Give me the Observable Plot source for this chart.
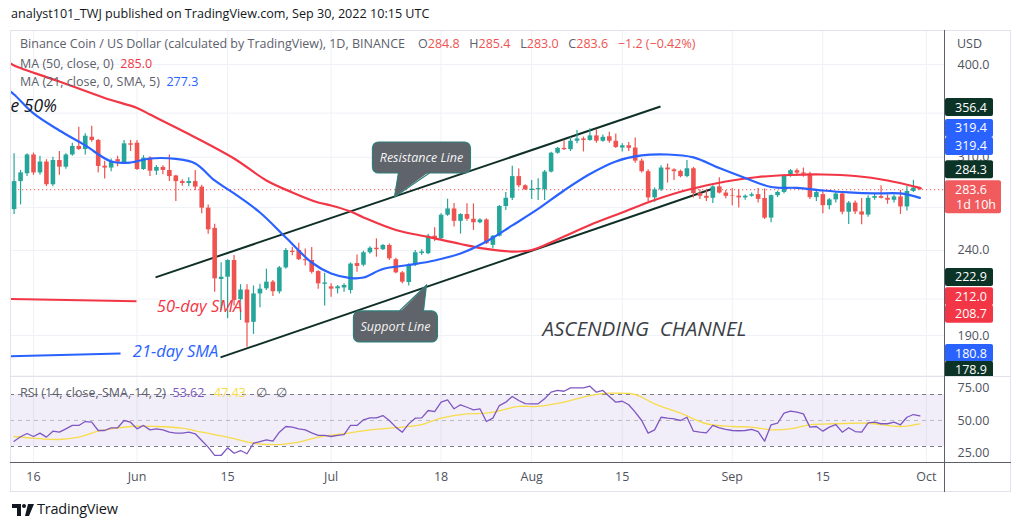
<!DOCTYPE html>
<html><head><meta charset="utf-8">
<script src="https://cdn.jsdelivr.net/npm/d3@7"></script>
<script src="https://cdn.jsdelivr.net/npm/@observablehq/plot@0.6"></script>
<style>
body{margin:0;background:#fff;font-family:"Open Sans",sans-serif;}
#root{position:relative;width:1024px;height:530px;overflow:hidden;background:#fff;}
.abs{position:absolute;white-space:pre;line-height:1;}
.pane{position:absolute;left:0;}
</style></head><body><div id="root"></div>
<script>
// ---------------- DATA ----------------
const firstDay = "2022-05-13";
const open  = [268.5,290,296.3,312,297,306,287.5,307.3,301.7,312,319.4,316.7,327.6,324.7,302.5,301,308,305,321.7,322.3,299.8,309.3,298.4,301.5,299,294.5,290,288.5,290,285.6,269.6,255,221.6,223,233.5,209.7,215.3,197,213,216,220,214.2,228.8,239.5,240,234,233.5,226.5,218.7,217.2,216,216.5,215,231.5,230.5,238.5,241.5,240.5,243.3,234,225.7,219.8,230.6,238,237.9,249.6,247.9,264.4,269,260,264.9,261.5,259,261,243.4,249.6,270.8,277,294,286.7,283,283.5,283.6,297.7,313.5,317.7,316.6,324,326,324.7,328.8,324,328,324,318,320,318,306.8,298,277.3,283.5,301,299.5,298.2,294,300.4,280.6,278.5,277,285.8,281,279,278.6,277.3,278.6,279.8,276.8,262.3,279,281.5,294.6,298.8,297,296,277.5,279.8,271.4,275.8,280.3,266.6,273.4,266.8,264.5,277,278.3,277,275.5,278,270.5,282.3,284.8];
const high  = [313,299,313,313.7,311,308,310,315,313,322.3,336.7,330.7,337.7,325.5,306.6,308.5,311,324.7,324.7,324.7,311.4,310.5,303,303,312,295,291.5,293,299,287,272,258,232,234,236.7,218.5,218.5,217.7,218.7,228,221,229.7,241.3,242,244.8,241,242,227,225.4,219,218,219,232,237,239.5,242.5,247.8,244,244.3,235,226.5,231.4,240,240.5,251,255.5,265.5,276.3,273,265.5,272.8,272.8,261.8,261.8,250,271.5,281.5,302.4,300.3,287.5,290.9,292.3,299,314.3,318.5,324.9,327.3,333.7,327.7,335.3,334.3,329.7,332,330.6,321.7,322.8,327,308.5,299.5,285,303,304.3,300.5,299.3,307.3,301.5,283.5,284,286.7,293,283,284.5,283.8,279.5,281,284.5,284.2,279.5,282.5,295.5,299.8,300.3,301,297.5,283,282,276.8,281.4,281,274.5,275,276.8,279,280,286.7,279.5,279.5,283,286.4,291,285.4];
const low   = [265,272,294,295,295,286,286,295,300,311,315.9,312,323,297,292,298,302,304,315,299,299,294,295,295.5,290,274.5,286.5,286,283,265.4,251,214,203.5,199,206,198,184,190.6,205,215,211.5,213,228,236.5,233.5,230,225,215.8,206,211,213,214,213,226,229.5,237.5,235.6,240,233.5,225.2,219,217.7,229.7,236.7,237.2,246,247.2,263.6,256,251,260,253.6,258.3,244,241.1,249,267.9,275.3,285.2,283,276,275.3,275.3,297,312.7,315.9,315,321.7,314.6,323.9,322.3,323,322.3,317.6,314.6,315,305,297,274.4,274,282.3,288.8,290.9,293,293,277.2,276,274.5,273,280.2,276.6,271.3,269.7,275.5,277.7,273.4,261.4,259,277.6,280.5,293.5,294.5,293.5,276,274.5,265.4,268.5,273.4,264.8,257.8,265,257.6,263,275.5,276.5,272.5,273.5,265,267.4,281.5,283.0];
const close = [290,297,312,297,306,287.5,307.3,301.7,312,319.4,316.7,328.5,324.7,302.3,301,306.6,306,321.7,320.5,299.8,309.3,298.4,301.5,299,294,290,288.5,290,285.6,269.6,254,222,223,233.5,209.2,215.3,196.6,213,215.8,220,214.3,228.8,240,238.7,234,233.3,226,219,219.5,215.8,217.2,218,231.2,229.7,238.5,241.5,240.5,243.3,234.6,225.7,220,230.6,238.5,239,249.6,247.9,264.4,269,260,264.9,261.5,259,261,244.5,249.6,270.8,277,294,286.7,283.5,284.1,284.5,297.7,313.5,317.7,316.6,324,326,324.7,328.8,324,327.5,324,318.5,320,317.8,306.8,298,277.3,283.5,301,299.5,298,294,300.4,280.6,278.5,277,285.8,281,278.5,278.6,277.3,278.6,279.7,276.2,262.3,279,281.5,294.6,298.8,296.8,296,277.5,281.4,271.4,275.8,280.3,266.6,273.4,266.8,264.5,277,278.3,277,275.5,278,270.5,282.3,284.8,283.6];

const ma50Dates = ["2022-05-12","2022-05-13","2022-05-20","2022-05-27","2022-06-01","2022-06-03","2022-06-09","2022-06-16","2022-06-21","2022-06-25","2022-06-29","2022-07-01","2022-07-04","2022-07-06","2022-07-11","2022-07-16","2022-07-21","2022-07-25","2022-07-29","2022-08-01","2022-08-05","2022-08-10","2022-08-15","2022-08-20","2022-08-25","2022-08-31","2022-09-05","2022-09-10","2022-09-15","2022-09-20","2022-09-25","2022-09-30"];
const ma50Vals  = [403.4,399,381.8,364.9,355,348.7,330.5,309,290.9,281.5,273.8,271.6,267.1,262.8,253.9,249.1,244.3,241,239.3,240.3,247.4,257.4,266.4,275.7,283.4,290.1,293.7,295.3,295.7,294.5,290.9,285.0];

const ma21Dates = ["2022-05-12","2022-05-13","2022-05-16","2022-05-20","2022-05-24","2022-05-28","2022-05-31","2022-06-03","2022-06-07","2022-06-10","2022-06-13","2022-06-16","2022-06-20","2022-06-24","2022-06-28","2022-07-01","2022-07-04","2022-07-06","2022-07-09","2022-07-13","2022-07-17","2022-07-21","2022-07-25","2022-07-29","2022-08-02","2022-08-06","2022-08-10","2022-08-14","2022-08-18","2022-08-22","2022-08-26","2022-08-30","2022-09-03","2022-09-07","2022-09-11","2022-09-15","2022-09-19","2022-09-23","2022-09-27","2022-09-30"];
const ma21Vals  = [373.5,368.4,349.7,333.7,320.3,306.5,305.6,309,308.6,304.8,290.9,280.7,266.4,248.7,232.2,225.3,222.5,222.8,228.1,230.6,233.5,238,246,257.1,269,283,296.1,306.5,311.6,312.4,309.9,301,292.9,285.7,285,283,281.5,280.7,280.7,277.3];

const rsiVals = [34,37.5,40,37.7,40.3,37.2,41.8,41,43.6,46.2,46.2,49.2,48.7,42.3,42.3,44.4,44.4,50,48.7,43.6,46.2,42.8,43.6,42.8,41,40.3,40.3,41,39.8,34.6,29.5,23.1,23.1,29,24.8,26.9,24.4,32.5,33.8,35.1,34.1,41,45.4,44.9,43.6,42.8,40.5,38.5,38.5,37.7,38.5,39.2,46.2,46.2,50.5,52,52,53.8,50,44.9,41,47.4,51.8,52,57.7,56.9,64.1,65.9,59,62.1,60.2,58.2,59,49.2,51.8,61.5,64.1,68.5,65.4,63,62.8,62.8,66.7,71.8,73.1,72.5,75.1,75.1,75.1,76.4,71.8,73.1,68.5,64.1,64.8,62.1,56.4,50,40.3,42.8,52.5,51.8,51.3,50,52.5,41.8,41,40.5,46.2,44.4,43.1,42.3,42.1,42.3,43.1,41.5,34.1,46.7,47.9,55.6,57.2,56.4,55.1,44.9,45.4,41.8,44.9,46.9,41,44.4,41.5,41,48.2,48.7,47.5,47.5,48.7,46.7,52.5,54.6,53.62];

const rsiSmaDay = [0,3,7,10,13,18,22,26,29,33,37,41,44,47,51,55,60,63,66,70,73,75,78,81,85,89,92,96,99,103,107,111,114,117,120,123,127,132,137,140];
const rsiSmaVals = [37.7,36.4,35.4,37.2,41.8,45.4,45.4,44.1,41,37.2,32.5,31.5,33.3,37.2,39.8,42.8,44.9,46.9,51.8,55.1,55.6,57.5,60.8,60.8,64.1,69.2,71,70,62.8,55.6,47.5,45.4,44.9,42.8,43.6,46.7,47.5,47.9,45.4,47.43];
const rsiLevels = [70, 50, 30];

const priceGridTicks = [170,190,210,240,270,310,350,400];
const priceLabelTicks = [190,240,310,400];
const rsiTicks = [25,50,75];
const xTickDates  = ["2022-05-16","2022-06-01","2022-06-15","2022-07-01","2022-07-18","2022-08-01","2022-08-15","2022-09-01","2022-09-15","2022-10-01"];
const xTickLabels = ["16","Jun","15","Jul","18","Aug","15","Sep","15","Oct"];

// drawings (date / price anchors)
const channelFrom = [["2022-06-03T20:40Z",222.9],["2022-06-13T21:40Z",178.9]];
const channelTo   = [["2022-08-20T21:50Z",356.4],["2022-08-28T22:50Z",284.3]];
const keyLineFrom = [["2022-05-12T10:40Z",210.1],["2022-05-12T10:40Z",179.5]];
const keyLineTo   = [["2022-05-31T22:05Z",208.7],["2022-05-29T10:50Z",180.8]];
const noteTexts = ["50-day SMA","21-day SMA","ASCENDING  CHANNEL","e 50%"];
const noteDates = ["2022-06-10T16:00Z","2022-06-06T23:00Z","2022-08-18T10:30Z","2022-05-12T10:40Z"];
const notePrices = [205.8,181.8,193.2,356.5];
const calloutTexts = ["Resistance Line","Support Line"];
const calloutDates = ["2022-07-10T20:50Z","2022-07-15T19:30Z"];
const calloutPrices = [277.6,218.0];
const badgeValues = [356.4,319.4,319.4,284.3,283.6,222.9,212.0,208.7,180.8,178.9];
const lastPrice = 283.6;

// ---------------- STYLE ----------------
const UP="#26a69a", DOWN="#ef5350";
const GRID="#eef1f6";
const DAY=864e5;
const t16 = Date.UTC(2022,4,16);
const xDomain=[new Date(t16-3.555*DAY), new Date(t16+140.96*DAY)];
const W=1024, ML=10, MR=79;
const DARK="#0b3326", BLUE="#2962ff", RED="#f23645";
const badgeStyle=[{bg:DARK,dy:1},{bg:BLUE,dy:-18},{bg:BLUE,dy:0},{bg:DARK,dy:-19},{bg:"#f15b5e",dy:0,sub:"1d 10h",w:56},{bg:DARK,dy:0},{bg:RED,dy:1},{bg:RED,dy:13},{bg:BLUE,dy:0},{bg:DARK,dy:13}];
const noteStyle=[{fill:"#f23645",size:16.5,anchor:"middle"},{fill:"#2962ff",size:16.5,anchor:"middle"},{fill:"#3c3f46",size:20.5,anchor:"middle"},{fill:"#131722",size:17.5,anchor:"start"}];
const calloutGeom=[{bx0:-22,bx1:76,by0:-55,by1:-24,p0:4,p1:35,side:"bottom"},{bx0:-73,bx1:11,by0:26,by1:57,p0:-27,p1:-3,side:"top"}];

const root=document.getElementById("root");
function addText(txt,left,top,css){const d=document.createElement("div");d.className="abs";d.textContent=txt;d.style.left=left+"px";d.style.top=top+"px";Object.assign(d.style,css||{});root.appendChild(d);return d;}
function addBox(l,t,w,h,css){const d=document.createElement("div");d.style.position="absolute";d.style.left=l+"px";d.style.top=t+"px";d.style.width=w+"px";d.style.height=h+"px";Object.assign(d.style,css);root.appendChild(d);return d;}

const candles = open.map((o,i)=>({date:new Date(Date.parse(firstDay)+i*DAY),o,h:high[i],l:low[i],c:close[i]}));
const ma50 = ma50Dates.map((d,i)=>({date:new Date(d),v:ma50Vals[i]}));
const ma21 = ma21Dates.map((d,i)=>({date:new Date(d),v:ma21Vals[i]}));
const rsi = rsiVals.map((v,i)=>({date:new Date(Date.parse(firstDay)+i*DAY),v}));
const rsiSma = rsiSmaDay.map((k,i)=>({date:new Date(Date.parse(firstDay)+k*DAY),v:rsiSmaVals[i]}));
const xTicks = xTickDates.map(d=>new Date(d));
const xLab = new Map(xTicks.map((d,i)=>[+d,xTickLabels[i]]));
const channels = channelFrom.map((f,i)=>({x1:new Date(f[0]),y1:f[1],x2:new Date(channelTo[i][0]),y2:channelTo[i][1]}));
const keyLines = keyLineFrom.map((f,i)=>({x1:new Date(f[0]),y1:f[1],x2:new Date(keyLineTo[i][0]),y2:keyLineTo[i][1],c:i===0?"#f23645":"#2962ff"}));
const notes = noteTexts.map((t,i)=>({t,date:new Date(noteDates[i]),p:notePrices[i],...noteStyle[i]}));

function getScale(scales,k){return typeof scales[k]==="function"?scales[k]:(scales.scales&&scales.scales[k]);}

function calloutMark(index,scales){
  const sx=getScale(scales,"x"), sy=getScale(scales,"y");
  const g=d3.create("svg:g");
  calloutTexts.forEach((t,i)=>{
    const tx=sx(new Date(calloutDates[i])), ty=sy(calloutPrices[i]), s=calloutGeom[i];
    const fill="#5f636a", stroke="#2f7f7a";
    g.append("rect").attr("x",tx+s.bx0).attr("y",ty+s.by0).attr("width",s.bx1-s.bx0).attr("height",s.by1-s.by0).attr("rx",6).attr("fill",fill).attr("stroke",stroke).attr("stroke-width",1.2);
    const by = s.side==="bottom"? ty+s.by1 : ty+s.by0;
    const inset = s.side==="bottom"? -1.5 : 1.5;
    g.append("path").attr("d",`M${tx+s.p0},${by+inset}L${tx},${ty}L${tx+s.p1},${by+inset}Z`).attr("fill",fill);
    g.append("path").attr("d",`M${tx+s.p0},${by}L${tx},${ty}L${tx+s.p1},${by}`).attr("fill","none").attr("stroke",stroke).attr("stroke-width",1.2);
    g.append("text").attr("x",tx+(s.bx0+s.bx1)/2).attr("y",ty+(s.by0+s.by1)/2).attr("dy","0.35em").attr("text-anchor","middle")
      .attr("fill","#f4f4f4").attr("font-style","italic").attr("font-size",12.5).attr("font-family","Open Sans").text(t);
  });
  return g.node();
}

function badgeMark(index,scales,values,dims){
  const sy=getScale(scales,"y");
  const g=d3.create("svg:g").attr("text-anchor","start");
  const x0=dims.width-dims.marginRight;
  badgeValues.forEach((v,i)=>{
    const s=badgeStyle[i]; const cy=sy(v)+s.dy; const w=s.w||48;
    const h0=9, h1=s.sub?24:9;
    g.append("rect").attr("x",x0).attr("y",cy-h0).attr("width",w).attr("height",h0+h1).attr("rx",2).attr("fill",s.bg);
    g.append("text").attr("x",x0+10).attr("y",cy).attr("dy","0.36em").attr("text-anchor","start").attr("fill","#fff").attr("font-size",12.5).attr("font-family","Open Sans").text(v.toFixed(1));
    if(s.sub) g.append("text").attr("x",x0+11).attr("y",cy+15).attr("dy","0.36em").attr("text-anchor","start").attr("fill","#fff").attr("font-size",12.5).attr("font-family","Open Sans").text(s.sub);
  });
  return g.node();
}

// ---------------- PRICE PANE ----------------
const pricePlot = Plot.plot({
  width:W, height:347, marginTop:0, marginBottom:0, marginLeft:ML, marginRight:MR,
  style:{background:"transparent",fontFamily:"Open Sans",fontSize:"12px"},
  x:{type:"utc",domain:xDomain,axis:null,label:null},
  y:{type:"log",domain:[169.3,439.2],axis:null,label:null},
  color:{type:"identity"},
  marks:[
    Plot.gridX(xTicks,{stroke:GRID,strokeOpacity:1}),
    Plot.gridY(priceGridTicks,{stroke:GRID,strokeOpacity:1}),
    Plot.axisY(priceLabelTicks,{anchor:"right",tickSize:0,tickPadding:12,tickFormat:d=>d.toFixed(1),fill:"#50535e",fontSize:12.5,label:null}),
    Plot.ruleY([lastPrice],{stroke:"#ef5350",strokeDasharray:"1.2,2.8",strokeWidth:1}),
    Plot.link(keyLines,{x1:"x1",y1:"y1",x2:"x2",y2:"y2",stroke:"c",strokeWidth:2,clip:true}),
    Plot.link(channels,{x1:"x1",y1:"y1",x2:"x2",y2:"y2",stroke:"#0f2f27",strokeWidth:2}),
    Plot.ruleX(candles,{x:"date",y1:"l",y2:"h",stroke:d=>d.c>=d.o?UP:DOWN,strokeWidth:1.2}),
    Plot.ruleX(candles,{x:"date",y1:"o",y2:"c",stroke:d=>d.c>=d.o?UP:DOWN,strokeWidth:4.6}),
    Plot.line(ma50,{x:"date",y:"v",stroke:"#f23645",strokeWidth:2.2,curve:"catmull-rom",clip:true}),
    Plot.line(ma21,{x:"date",y:"v",stroke:"#2962ff",strokeWidth:2.2,curve:"catmull-rom",clip:true}),
    Plot.text(notes.filter(d=>d.anchor==="middle"),{x:"date",y:"p",text:"t",fill:"fill",fontSize:d=>d.size,textAnchor:"middle",fontStyle:"italic",fontFamily:"Open Sans",clip:true}),
    Plot.text(notes.filter(d=>d.anchor==="start"),{x:"date",y:"p",text:"t",fill:"fill",fontSize:d=>d.size,textAnchor:"start",fontStyle:"italic",fontWeight:500,fontFamily:"Open Sans",clip:true}),
    calloutMark,
    badgeMark
  ]
});
pricePlot.classList.add("pane");
pricePlot.style.top="30px";
root.appendChild(pricePlot);

// ---------------- RSI PANE + TIME AXIS ----------------
const rsiPlot = Plot.plot({
  width:W, height:115, marginTop:0, marginBottom:29, marginLeft:ML, marginRight:MR,
  style:{background:"transparent",fontFamily:"Open Sans",fontSize:"12px"},
  x:{type:"utc",domain:xDomain,axis:null,label:null},
  y:{domain:[16.92,83.08],axis:null,label:null},
  marks:[
    Plot.gridX(xTicks,{stroke:GRID,strokeOpacity:1}),
    Plot.rect([rsiLevels],{x1:()=>xDomain[0],x2:()=>xDomain[1],y1:d=>d[2],y2:d=>d[0],fill:"#7e57c2",fillOpacity:0.1}),
    Plot.ruleY([rsiLevels[0],rsiLevels[2]],{stroke:"#787b86",strokeDasharray:"4,4"}),
    Plot.ruleY([rsiLevels[1]],{stroke:"#a9acb6",strokeDasharray:"4,4",strokeOpacity:0.8}),
    Plot.line(rsiSma,{x:"date",y:"v",stroke:"#f7dc4a",strokeWidth:1.3,curve:"catmull-rom"}),
    Plot.line(rsi,{x:"date",y:"v",stroke:"#7e57c2",strokeWidth:1.3}),
    Plot.axisY(rsiTicks,{anchor:"right",tickSize:0,tickPadding:12,tickFormat:d=>d.toFixed(2),fill:"#50535e",fontSize:12.5,label:null}),
    Plot.axisX(xTicks,{anchor:"bottom",tickSize:0,tickPadding:9,tickFormat:d=>xLab.get(+d),fill:"#50535e",fontSize:12.5,label:null})
  ]
});
rsiPlot.classList.add("pane");
rsiPlot.style.top="377px";
root.appendChild(rsiPlot);

// ---------------- FRAME / LINES ----------------
addBox(10,30,1001,462,{border:"1px solid #e0e3eb",boxSizing:"border-box",pointerEvents:"none"});
addBox(10,376,1001,1,{background:"#e0e3eb"});
addBox(10,462,1001,1,{background:"#5d606b"});
addBox(944,30,1,462,{background:"#5d606b"});

// ---------------- TEXTS ----------------
addText("analyst101_TWJ published on TradingView.com, Sep 30, 2022 10:15 UTC",11,8,{fontSize:"12.6px",color:"#131722"});
addText("USD",957,38,{fontSize:"12.5px",color:"#50535e"});
const l1=addText("",20,38,{fontSize:"12.5px",color:"#5d606b"});
l1.innerHTML='Binance Coin / US Dollar (calculated by TradingView), 1D, BINANCE&nbsp;&nbsp;&nbsp; O<span style="color:#ef5350">284.8</span>&nbsp;&nbsp; H<span style="color:#ef5350">285.4</span>&nbsp;&nbsp; L<span style="color:#ef5350">283.0</span>&nbsp;&nbsp; C<span style="color:#ef5350">283.6</span>&nbsp;&nbsp; <span style="color:#ef5350">−1.2 (−0.42%)</span>';
const l2=addText("",20,58,{fontSize:"12.5px",color:"#5d606b"});
l2.innerHTML='MA (50, close, 0)&nbsp; <span style="color:#f23645">285.0</span>';
const l3=addText("",20,76,{fontSize:"12.5px",color:"#5d606b"});
l3.innerHTML='MA (21, close, 0, SMA, 5)&nbsp; <span style="color:#2962ff">277.3</span>';
const l4=addText("",20,387,{fontSize:"12.5px",color:"#5d606b"});
l4.innerHTML='RSI (14, close, SMA, 14, 2)&nbsp; <span style="color:#7e57c2">53.62</span>&nbsp;&nbsp; <span style="color:#f7dc4a">47.43</span>&nbsp;&nbsp; ∅&nbsp;&nbsp; ∅';

// logo
const logo=document.createElementNS("http://www.w3.org/2000/svg","svg");
logo.setAttribute("width","24");logo.setAttribute("height","14");
logo.style.position="absolute";logo.style.left="11px";logo.style.top="503px";
logo.innerHTML='<path d="M1 1h9v12H6V5H1z" fill="#131722"/><circle cx="13" cy="3" r="2" fill="#131722"/><path d="M17 1h6l-5 12h-4z" fill="#131722"/>';
root.appendChild(logo);
addText("TradingView",37,502,{fontSize:"14.5px",color:"#131722",letterSpacing:"-0.2px"});
</script>
</body></html>
